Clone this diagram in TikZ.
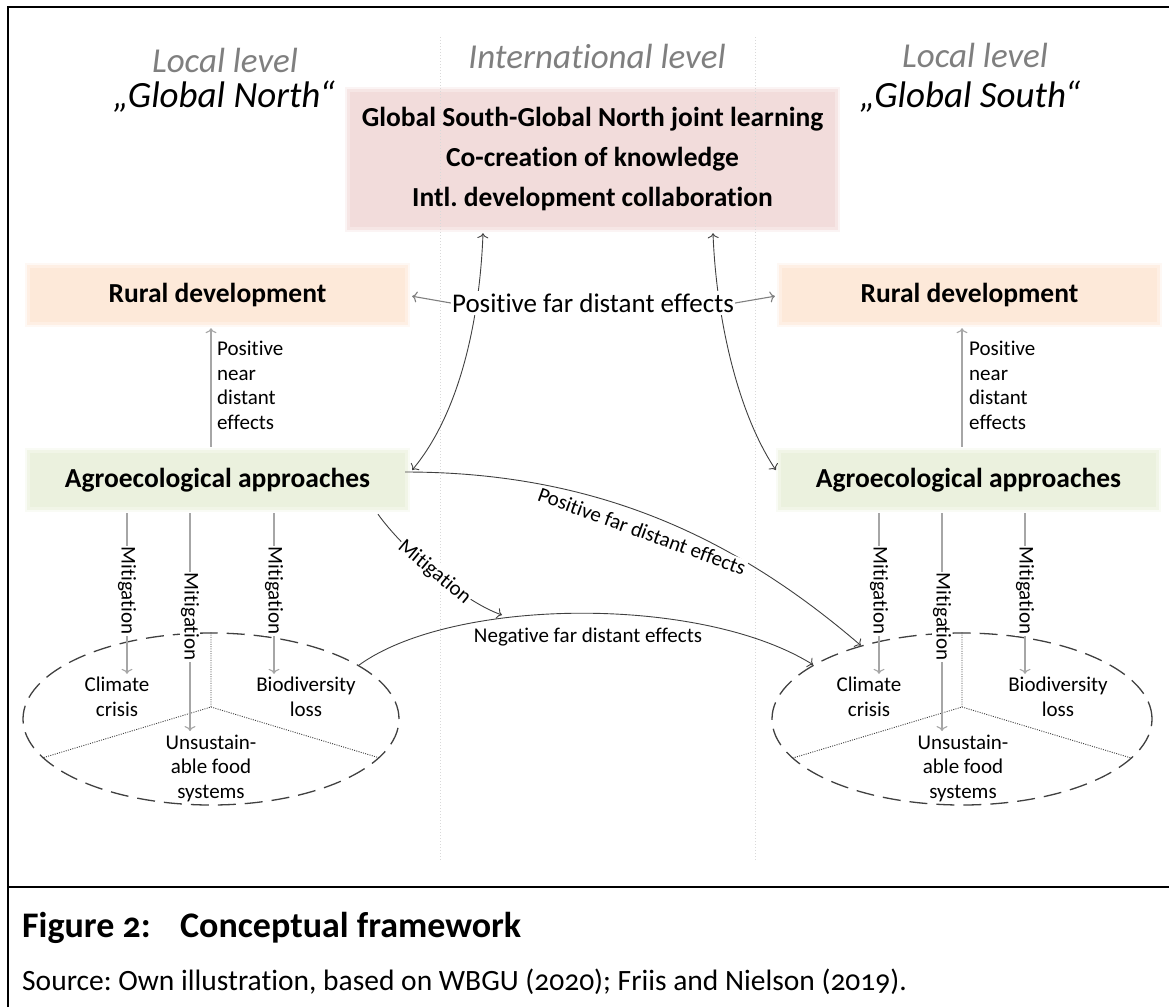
\documentclass[tikz,border=0pt]{standalone}
\usepackage{fontspec}
\setmainfont{Carlito}[Numbers=OldStyle, Ligatures=NoCommon]
\usetikzlibrary{arrows.meta,shapes.geometric,calc}
\frenchspacing

\definecolor{pinkbox}{HTML}{F2DCDB}
\definecolor{peachbox}{HTML}{FDE9D9}
\definecolor{greenbox}{HTML}{EBF1DE}
\definecolor{levelgray}{HTML}{7F7F7F}
\definecolor{lightarrow}{HTML}{A6A6A6}
\definecolor{midarrow}{HTML}{7F7F7F}
\definecolor{darkline}{HTML}{404040}
\definecolor{colline}{HTML}{D9D9D9}

\pgfdeclarelayer{fills}
\pgfdeclarelayer{links}
\pgfsetlayers{fills,links,main}

\tikzset{
  box/.style={inner sep=0pt, minimum width=375pt, minimum height=54pt,
    font=\fontsize{27.5}{32}\selectfont\bfseries},
  levelhead/.style={font=\fontsize{35}{40}\selectfont\itshape, text=levelgray, anchor=base},
  regionhead/.style={font=\fontsize{37}{42}\selectfont\itshape, anchor=base},
  smalltxt/.style={font=\fontsize{21}{24.5}\selectfont},
  midtxt/.style={font=\fontsize{27}{32}\selectfont},
  tip/.style={-{To[length=5pt,width=11pt]}},
  lightarrow/.style={draw=lightarrow, line width=1.1pt, tip},
  midarrow/.style={draw=midarrow, line width=1.1pt, tip},
  darkarrow/.style={draw=darkline, line width=0.9pt},
  mitlabel/.style={smalltxt, fill=white, inner sep=1pt, rotate=-90},
  problem/.style={draw=darkline, line width=1.3pt, dash pattern=on 18pt off 9pt,
    ellipse, inner sep=0pt, minimum height=172pt},
  divider/.style={draw=darkline, line width=0.9pt, dash pattern=on 1pt off 1.3pt},
  colsep/.style={draw=colline, line width=1pt, dash pattern=on 1pt off 2pt},
}

\begin{document}
\begin{tikzpicture}[x=1pt,y=-1pt]
\useasboundingbox (0,0) rectangle (1169,1007);

% outer frame and caption rule
\draw[line width=2pt] (8,1007) -- (8,7) -- (1169,7);
\draw[line width=2pt] (8,887) -- (1169,887);

% level headings
\node[levelhead] (locN) at (225,72) {Local level};
\node[regionhead] (north) at (224,107) {„Global North“};
\node[levelhead] (intl) at (597,68) {International level};
\node[levelhead] (locS) at (975,67) {Local level};
\node[regionhead] (south) at (970,107) {„Global South“};

% boxes
\node[box, minimum width=485pt, minimum height=135pt, align=center,
      font=\fontsize{27.5}{40}\selectfont\bfseries] (pink) at (592.5,159.5)
  {Global South-Global North joint learning\\Co-creation of knowledge\\Intl. development collaboration};
\node[box] (ruralL) at (217.5,295) {Rural development};
\node[box] (ruralR) at (969.5,295) {Rural development};
\node[box] (agroL) at (217.5,480) {Agroecological approaches};
\node[box] (agroR) at (968.5,480) {Agroecological approaches};

% soft-edged box fills
\begin{pgfonlayer}{fills}
  \foreach \n/\c in {pink/pinkbox, ruralL/peachbox, ruralR/peachbox, agroL/greenbox, agroR/greenbox}{
    \fill[\c, opacity=0.3] ($(\n.south west)+(-5,5)$) rectangle ($(\n.north east)+(5,-5)$);
    \fill[\c, opacity=0.6] ($(\n.south west)+(-2.5,2.5)$) rectangle ($(\n.north east)+(2.5,-2.5)$);
    \fill[\c] (\n.south west) rectangle (\n.north east);
  }
\end{pgfonlayer}

% column separators
\begin{pgfonlayer}{links}
  \draw[colsep] (440,37) -- (440,860);
  \draw[colsep] (755,37) -- (755,860);
\end{pgfonlayer}

% near distant effects
\coordinate (cNL) at (211,0);
\coordinate (cNR) at (962,0);
\draw[lightarrow, shorten <=6pt, shorten >=6pt] (agroL.north -| cNL) -- (ruralL.south -| cNL);
\draw[lightarrow, shorten <=6pt, shorten >=6pt] (agroR.north -| cNR) -- (ruralR.south -| cNR);
\node[smalltxt, align=left, anchor=north west, inner sep=0pt] (nearL) at (217,341)
  {Positive\\near\\distant\\effects};
\node[smalltxt, align=left, anchor=north west, inner sep=0pt] (nearR) at (969,341)
  {Positive\\near\\distant\\effects};

% far distant effects between the rural boxes
\node[midtxt, fill=white, inner xsep=1pt, inner ysep=3pt] (pfd) at (593,303) {Positive far distant effects};
\draw[midarrow, shorten >=7pt] (pfd.west) -- (ruralL.east);
\draw[midarrow, shorten >=7pt] (pfd.east) -- (ruralR.west);

% problem ellipses
\node[problem, minimum width=376pt] (ellL) at (211,719) {};
\node[problem, minimum width=380pt] (ellR) at (962,719) {};
\coordinate (hubL) at ([yshift=12pt]ellL.center);
\coordinate (hubR) at ([yshift=12pt]ellR.center);
\draw[divider] (ellL.90) -- (hubL) -- (ellL.193);
\draw[divider] (hubL) -- (ellL.347);
\draw[divider] (ellR.90) -- (hubR) -- (ellR.193);
\draw[divider] (hubR) -- (ellR.347);

\node[smalltxt, align=center] (climL) at (117,697) {Climate\\crisis};
\node[smalltxt, align=center] (bioL) at (306,697) {Biodiversity\\loss};
\node[smalltxt, align=center] (unsL) at (211,768) {Unsustain-\\able food\\systems};
\node[smalltxt, align=center] (climR) at (869,697) {Climate\\crisis};
\node[smalltxt, align=center] (bioR) at (1058,697) {Biodiversity\\loss};
\node[smalltxt, align=center] (unsR) at (963,768) {Unsustain-\\able food\\systems};

% mitigation arrows inside each local level
\coordinate (mL1) at (127,0);
\coordinate (mL2) at (190,0);
\coordinate (mL3) at (274,0);
\coordinate (mR1) at (879,0);
\coordinate (mR2) at (942,0);
\coordinate (mR3) at (1025,0);
\draw[lightarrow, shorten <=6pt] (agroL.south -| mL1) -- node[mitlabel, pos=0.5] {Mitigation} (mL1 |- climL.north);
\draw[lightarrow, shorten <=6pt] (agroL.south -| mL2) -- node[mitlabel, pos=0.49] {Mitigation} (mL2 |- unsL.north);
\draw[lightarrow, shorten <=6pt] (agroL.south -| mL3) -- node[mitlabel, pos=0.5] {Mitigation} (mL3 |- bioL.north);
\draw[lightarrow, shorten <=6pt] (agroR.south -| mR1) -- node[mitlabel, pos=0.5] {Mitigation} (mR1 |- climR.north);
\draw[lightarrow, shorten <=6pt] (agroR.south -| mR2) -- node[mitlabel, pos=0.49] {Mitigation} (mR2 |- unsR.north);
\draw[lightarrow, shorten <=6pt] (agroR.south -| mR3) -- node[mitlabel, pos=0.5] {Mitigation} (mR3 |- bioR.north);

% international links
\begin{pgfonlayer}{links}
  \draw[darkarrow, {To[length=5pt,width=11pt]}-{To[length=5pt,width=11pt]}]
    ([xshift=-109.5pt, yshift=-6pt]pink.south) .. controls +(-3,80) and +(50,-60) .. ([xshift=7pt, yshift=10pt]agroL.east);
  \draw[darkarrow, {To[length=5pt,width=11pt]}-{To[length=5pt,width=11pt]}]
    ([xshift=120.5pt, yshift=-6pt]pink.south) .. controls +(3,80) and +(-40,-60) .. ([xshift=-5pt, yshift=10pt]agroR.west);
  \draw[darkarrow, tip]
    ([yshift=8pt]agroL.east) .. controls +(195,0) and +(-122,-105) .. (ellR.144);
  \draw[darkarrow, tip]
    (ellL.20) .. controls +(94,-68) and +(-112,-70) .. (ellR.160);
\end{pgfonlayer}
\node[smalltxt, fill=white, inner sep=1pt, rotate=-20] (pfd2) at (642,531) {Positive far distant effects};
\node[smalltxt] (nfd) at (588,637) {Negative far distant effects};

% mitigation across to the far side
\coordinate (mitEnd) at (502,615);
\draw[darkarrow, tip] ([xshift=160.5pt, yshift=-7pt]agroL.south) .. controls +(25,35) and +(-40,-14) ..
  node[smalltxt, sloped, fill=white, inner sep=1pt, pos=0.5] {Mitigation} (mitEnd);

% caption
\node[anchor=base west, inner sep=0pt, font=\fontsize{36}{40}\selectfont\bfseries] (fig) at (22,937)
  {\makebox[158pt][l]{Figure 2:}Conceptual framework};
\node[anchor=base west, inner sep=0pt, font=\fontsize{29.5}{34}\selectfont] (src) at (22,990)
  {Source: Own illustration, based on WBGU (2020); Friis and Nielson (2019).};
\end{tikzpicture}
\end{document}
